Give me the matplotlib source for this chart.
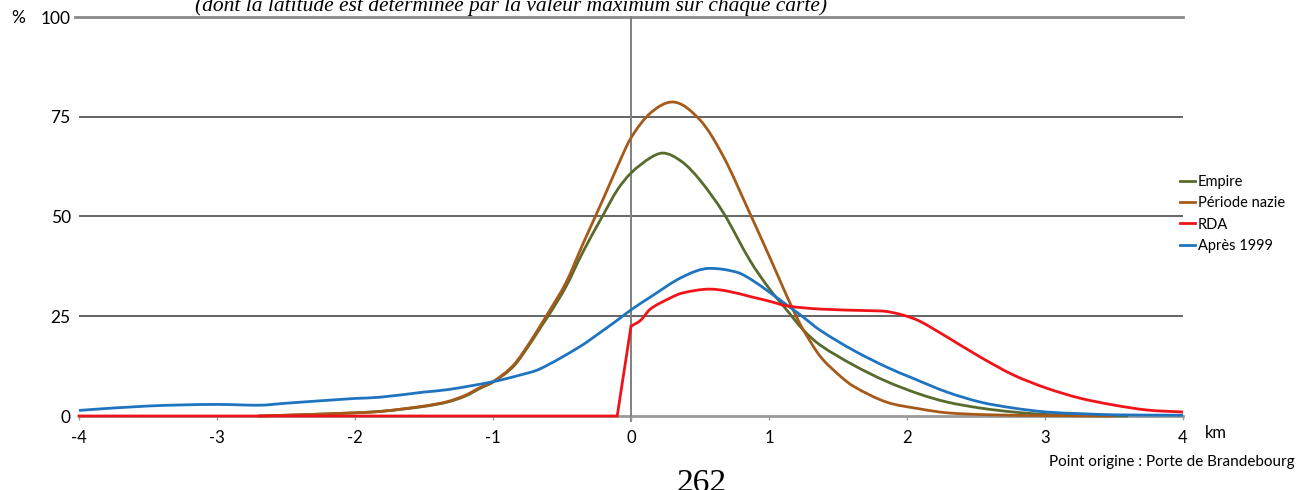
import matplotlib
matplotlib.use("Agg")
import numpy as np
import matplotlib.pyplot as plt
from matplotlib.lines import Line2D
from matplotlib.path import Path
from matplotlib.patches import PathPatch

# ---- data ----
empire_x = [-2.7, -2.4, -2.0, -1.8, -1.5, -1.33, -1.2, -1.09, -1.0, -0.85, -0.73, -0.64, -0.59,
            -0.47, -0.35, -0.2, -0.1, 0.0, 0.14, 0.23, 0.37, 0.5, 0.67, 0.86, 1.0, 1.13, 1.25,
            1.37, 1.61, 1.85, 2.09, 2.29, 2.53, 2.77, 3.0, 3.3, 3.6]
empire_y = [0.0, 0.3, 0.8, 1.2, 2.4, 3.5, 5.0, 7.0, 8.5, 12.5, 18.2, 23.0, 25.6,
            32.5, 41.0, 50.5, 56.6, 60.9, 64.7, 65.9, 63.7, 59.1, 50.9, 39.1, 32.0, 26.5, 21.5,
            17.8, 12.8, 8.7, 5.5, 3.5, 2.0, 1.0, 0.4, 0.1, 0.0]

nazi_x = [-2.7, -2.4, -2.0, -1.8, -1.5, -1.33, -1.2, -1.09, -1.0, -0.85, -0.73, -0.64, -0.59,
          -0.47, -0.35, -0.2, -0.1, 0.0, 0.14, 0.3, 0.5, 0.67, 0.86, 0.97, 1.06, 1.13, 1.2,
          1.25, 1.37, 1.5, 1.61, 1.85, 2.09, 2.29, 2.6, 3.0, 3.5]
nazi_y = [0.0, 0.3, 0.8, 1.2, 2.5, 3.6, 5.2, 7.2, 8.6, 12.8, 18.6, 23.6, 26.4,
          33.5, 43.0, 54.5, 62.4, 69.7, 75.9, 78.7, 74.2, 65.0, 50.9, 42.5, 35.5, 30.0, 24.8,
          21.5, 15.0, 10.5, 7.5, 3.5, 1.8, 0.8, 0.3, 0.1, 0.0]

rda_x = [-4.0, -0.1, 0.0, 0.07, 0.14, 0.28, 0.37, 0.57, 0.7, 0.88, 1.0, 1.13, 1.37, 1.73,
         1.85, 1.97, 2.09, 2.29, 2.53, 2.77, 3.01, 3.25, 3.49, 3.74, 4.0]
rda_y = [0.0, 0.0, 22.5, 24.0, 26.8, 29.5, 30.8, 31.8, 31.3, 29.8, 28.8, 27.6, 26.8, 26.4,
         26.2, 25.3, 23.8, 19.8, 14.8, 10.3, 7.0, 4.5, 2.8, 1.5, 1.0]

apres_x = [-4.0, -3.5, -3.0, -2.7, -2.5, -2.0, -1.82, -1.5, -1.33, -1.0, -0.8, -0.66, -0.37,
           -0.2, -0.08, 0.0, 0.14, 0.37, 0.57, 0.77, 0.88, 1.0, 1.13, 1.24, 1.37, 1.61, 1.85,
           2.04, 2.29, 2.53, 2.77, 3.01, 3.25, 3.5, 4.0]
apres_y = [1.4, 2.5, 2.9, 2.7, 3.2, 4.4, 4.7, 6.0, 6.6, 8.6, 10.3, 11.8, 17.4,
           21.5, 24.5, 26.6, 29.8, 34.8, 37.0, 36.0, 34.0, 31.1, 27.8, 25.0, 21.5, 16.5, 12.3,
           9.5, 6.0, 3.5, 2.0, 1.0, 0.6, 0.3, 0.2]

series_names = ["Empire", "Période nazie", "RDA", "Après 1999"]
x_ticks = [-4, -3, -2, -1, 0, 1, 2, 3, 4]
y_ticks = [0, 25, 50, 75, 100]

colors = ["#586b2d", "#a65a1a", "#f0141a", "#1f74c0"]


def smooth_path(xs, ys):
    """Smoothed (Excel-like) line through the data points, as cubic Bezier segments."""
    x = np.asarray(xs, float)
    y = np.asarray(ys, float)
    n = len(x)
    h = np.diff(x)
    d = np.diff(y) / h
    m = np.zeros(n)
    m[0] = d[0]
    m[-1] = d[-1]
    for i in range(1, n - 1):
        if d[i - 1] * d[i] <= 0:
            m[i] = 0.0
        else:
            t = (y[i + 1] - y[i - 1]) / (x[i + 1] - x[i - 1])
            lim = 3 * min(abs(d[i - 1]), abs(d[i]))
            m[i] = np.sign(t) * min(abs(t), lim)
    verts = [(x[0], y[0])]
    codes = [Path.MOVETO]
    for i in range(n - 1):
        verts += [(x[i] + h[i] / 3, y[i] + m[i] * h[i] / 3),
                  (x[i + 1] - h[i] / 3, y[i + 1] - m[i + 1] * h[i] / 3),
                  (x[i + 1], y[i + 1])]
        codes += [Path.CURVE4] * 3
    return Path(verts, codes)


def draw(ax, xs, ys, color, z):
    p = PathPatch(smooth_path(xs, ys), facecolor="none", edgecolor=color, lw=2.0,
                  capstyle="butt", joinstyle="round", zorder=z, clip_on=False,
                  transform=ax.transData)
    ax.add_patch(p)


# ---- figure ----
W, H = 1305, 490
fig = plt.figure(figsize=(W / 100, H / 100), dpi=100)
fig.patch.set_facecolor("white")
ax = fig.add_axes([79 / W, (H - 416) / H, 1104 / W, 399 / H])
ax.set_xlim(-4, 4)
ax.set_ylim(0, 100)
for s in ax.spines.values():
    s.set_visible(False)

# gridlines
for v in [25, 50, 75]:
    ax.axhline(v, color="#3a3a3a", lw=1.1, zorder=1)
ax.axhline(100, xmin=-0.004, color="#8a8a8a", lw=2.0, zorder=1, clip_on=False)
ax.axhline(0, color="#9a9a9a", lw=2.0, zorder=1, clip_on=False)
ax.axvline(0, ymin=-0.012, ymax=1.0, color="#808080", lw=1.4, zorder=1, clip_on=False)

draw(ax, empire_x, empire_y, colors[0], 3)
draw(ax, nazi_x, nazi_y, colors[1], 3)
draw(ax, apres_x, apres_y, colors[3], 3)
# RDA: flat, vertical jump at the origin, then smoothed
ax.plot(rda_x[:3], rda_y[:3], color=colors[2], lw=2.0, zorder=4, clip_on=False,
        solid_joinstyle="miter")
draw(ax, rda_x[2:], rda_y[2:], colors[2], 4)

font = "Lato"
ax.set_xticks(x_ticks)
ax.set_xticklabels([str(t) for t in x_ticks], fontsize=12, family=font)
ax.tick_params(axis="x", length=3, width=1, color="#9a9a9a", pad=7, direction="out")
ax.set_yticks(y_ticks)
ax.set_yticklabels([str(t) for t in y_ticks], fontsize=12.5, family=font)
ax.tick_params(axis="y", length=0, pad=6)

# text annotations
fig.text(11 / W, (H - 18) / H, "%", fontsize=12.5, family=font, ha="left", va="center")
fig.text(1205 / W, (H - 433) / H, "km", fontsize=12, family=font, ha="left", va="center")
fig.text(1295 / W, (H - 462) / H, "Point origine : Porte de Brandebourg", fontsize=11,
         family=font, ha="right", va="center")
fig.text(195 / W, (H - 11) / H,
         "(dont la latitude est déterminée par la valeur maximum sur chaque carte)",
         fontsize=15.5, family="Liberation Serif", style="italic", ha="left", va="baseline")
fig.text(702 / W, (H - 468) / H, "262", fontsize=24, family="Liberation Serif",
         ha="center", va="top")

# legend
handles = [Line2D([], [], color=c, lw=2.0) for c in colors]
leg = fig.legend(handles, series_names, loc="upper left",
                 bbox_to_anchor=(1180 / W, (H - 175) / H), frameon=False,
                 prop={"family": font, "size": 10.5}, handlelength=1.05,
                 handletextpad=0.15, labelspacing=0.5, borderaxespad=0, borderpad=0)

fig.savefig("out.png", dpi=100, facecolor="white")
